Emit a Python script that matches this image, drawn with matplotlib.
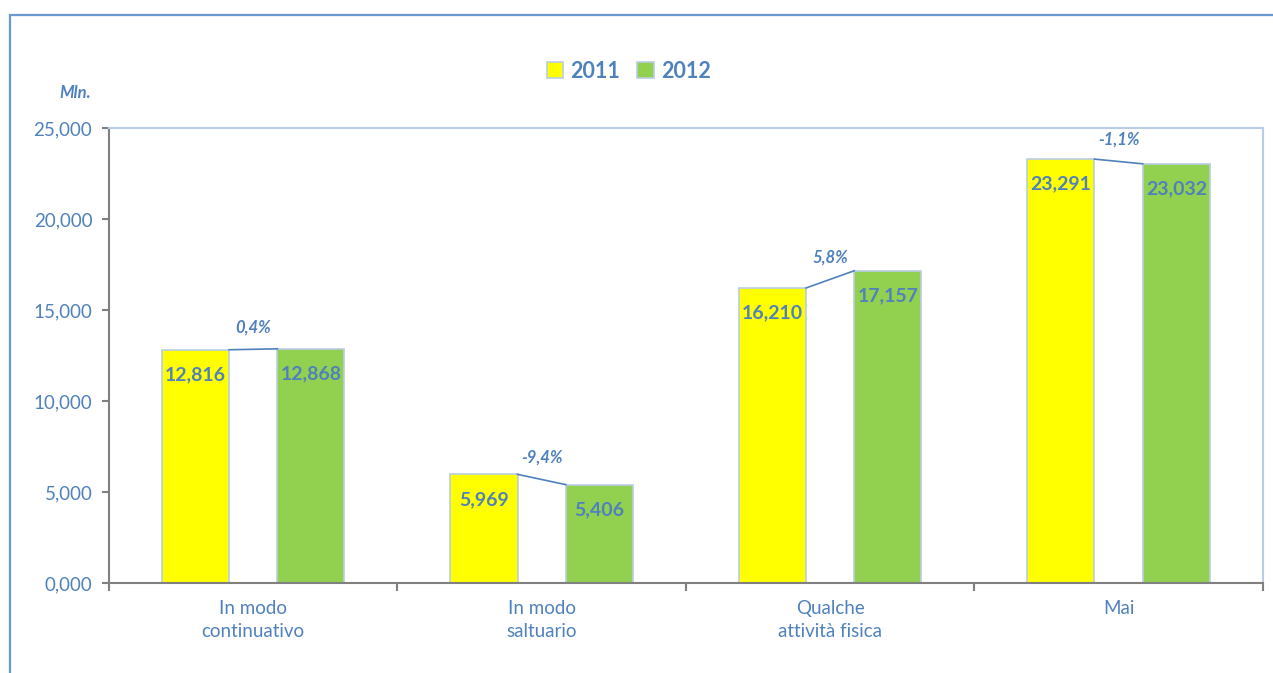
import numpy as np
import matplotlib.pyplot as plt
from matplotlib.patches import Rectangle
from matplotlib.ticker import FuncFormatter

plt.rcParams['font.family'] = ['Lato', 'DejaVu Sans']

categories = ['In modo\ncontinuativo', 'In modo\nsaltuario', 'Qualche\nattività fisica', 'Mai']
values_2011 = [12816, 5969, 16210, 23291]
values_2012 = [12868, 5406, 17157, 23032]
changes = ['0,4%', '-9,4%', '5,8%', '-1,1%']
years = ['2011', '2012']

text_col = '#4F81BD'
edge_col = '#B9CDE5'
colors = ['#FFFF00', '#92D050']

fig = plt.figure(figsize=(12.73, 6.73), dpi=100)
ax = fig.add_axes([0.0856, 0.1337, 0.9064, 0.6761])

# outer chart frame
fig.patches.append(Rectangle((10 / 1273, -0.1), 1.2, (673 - 15) / 673 + 0.1,
                             transform=fig.transFigure, fill=False,
                             edgecolor='#6A98D0', linewidth=1.6))

x = np.arange(len(categories))
w = 0.233
off = 0.2
b1 = ax.bar(x - off, values_2011, w, color=colors[0], edgecolor=edge_col, linewidth=1.2, label=years[0])
b2 = ax.bar(x + off, values_2012, w, color=colors[1], edgecolor=edge_col, linewidth=1.2, label=years[1])

# value labels inside bars
for bars, vals in [(b1, values_2011), (b2, values_2012)]:
    for rect, v in zip(bars, vals):
        ax.annotate(f'{v:,}', (rect.get_x() + rect.get_width() / 2, v),
                    xytext=(0, -18), textcoords='offset points',
                    ha='center', va='center', fontsize=14, fontweight='bold', color=text_col)

# connector lines and percent change
for i in range(len(categories)):
    x0 = x[i] - off + w / 2
    x1 = x[i] + off - w / 2
    ax.plot([x0, x1], [values_2011[i], values_2012[i]], color=text_col, linewidth=1.2)
    ym = (values_2011[i] + values_2012[i]) / 2
    ax.annotate(changes[i], (x[i], ym), xytext=(0, 16), textcoords='offset points',
                ha='center', va='center', fontsize=12, fontweight='bold', style='italic', color=text_col)

ax.set_xlim(-0.5, len(categories) - 0.5)
ax.set_ylim(0, 25000)
ax.set_yticks(np.arange(0, 25001, 5000))
ax.yaxis.set_major_formatter(FuncFormatter(lambda v, p: f'{v / 1000:.3f}'.replace('.', ',')))
ax.set_xticks(np.arange(-0.5, len(categories), 1.0))
ax.set_xticklabels([])
ax.set_xticks(x, minor=True)
ax.set_xticklabels(categories, minor=True, fontsize=13.5, color=text_col, linespacing=1.45)
ax.tick_params(axis='x', which='minor', length=0, pad=12)
ax.tick_params(axis='x', which='major', length=6, color='#808080', width=1.5)
ax.tick_params(axis='y', length=5, color='#808080', width=1.5, labelsize=13.5, labelcolor=text_col, pad=7)

for s in ['left', 'bottom']:
    ax.spines[s].set_color('#808080')
    ax.spines[s].set_linewidth(1.5)
for s in ['top', 'right']:
    ax.spines[s].set_color(edge_col)
    ax.spines[s].set_linewidth(1.5)

ax.text(-0.016, 1.078, 'Mln.', transform=ax.transAxes, ha='right', va='center',
        fontsize=12, fontweight='bold', style='italic', color=text_col)

leg = fig.legend(loc='center', bbox_to_anchor=(0.494, 0.894), ncol=2, frameon=False,
                 fontsize=15.5, handlelength=0.75, handleheight=0.75, handletextpad=0.35, columnspacing=0.8)
for t in leg.get_texts():
    t.set_color(text_col)
    t.set_fontweight('bold')

fig.savefig('out.png', dpi=100)
